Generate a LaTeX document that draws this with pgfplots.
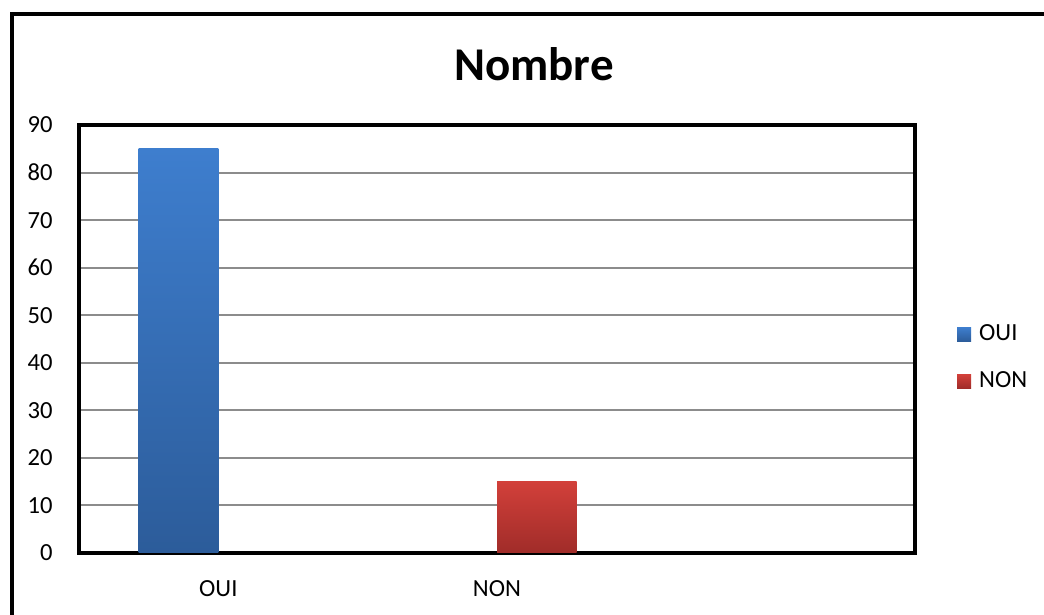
\documentclass[border=0pt]{standalone}
\usepackage{pgfplots}
\pgfplotsset{compat=1.18}
\usepackage{fontspec}
\setmainfont{Carlito}

\definecolor{ouitop}{RGB}{62,126,206}
\definecolor{ouibot}{RGB}{44,92,154}
\definecolor{nontop}{RGB}{210,64,58}
\definecolor{nonbot}{RGB}{160,44,41}
\definecolor{gridgray}{RGB}{140,140,140}

\begin{document}
\begin{tikzpicture}[x=0.5pt,y=0.5pt]
\useasboundingbox (0,0) rectangle (1044,615);
% outer chart frame
\begin{scope}
  \clip (0,0) rectangle (1044,615);
  \draw[line width=2pt] (11.5,-30) rectangle (1090,600.5);
\end{scope}
\node[font=\fontsize{23.5}{28}\selectfont\bfseries] at (534,551) {Nombre};

\begin{axis}[
  at={(39.5pt,31pt)}, anchor=south west,
  scale only axis, width=418pt, height=214pt,
  xmin=-0.5, xmax=2.5, ymin=0, ymax=90,
  xtick={0,1,2}, xticklabels={OUI,NON,{}},
  ytick={0,10,...,90},
  major tick length=0pt,
  ymajorgrids, grid style={gridgray, line width=1pt},
  axis line style={line width=1.6pt},
  ticklabel style={font=\fontsize{12.3}{14}\selectfont},
  /pgf/number format/assume math mode=true,
  yticklabel style={anchor=east, inner sep=0pt, xshift=-13pt},
  xticklabel style={anchor=north, inner sep=0pt, yshift=-13.5pt},
  ybar, bar width=0.2857,
  legend style={at={(1.05,0.456)}, anchor=west, draw=none, fill=none,
    font=\fontsize{12.3}{14}\selectfont, row sep=11pt, inner sep=0pt,
    nodes={inner sep=1.5pt}},
  legend cell align=left,
  legend image code/.code={\path[#1,draw=none] (0pt,-3.5pt) rectangle (7pt,3.5pt);},
  legend entries={\hspace{2.5pt}OUI,\hspace{2.5pt}NON},
]
\addplot[draw=none, top color=ouitop, bottom color=ouibot, bar shift=-0.142857]
  coordinates {(0,85)};
\addplot[draw=none, top color=nontop, bottom color=nonbot, bar shift=0.142857]
  coordinates {(1,15)};
\end{axis}
\end{tikzpicture}
\end{document}
